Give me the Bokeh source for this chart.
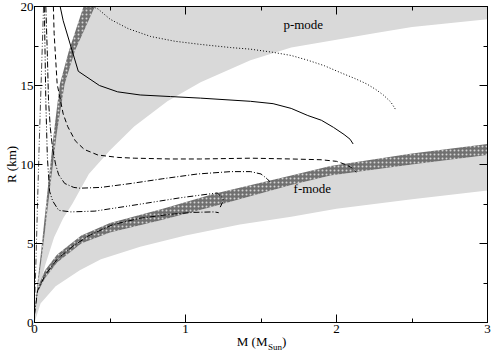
import math
from bokeh.plotting import figure
from bokeh.models import LinearAxis, SingleIntervalTicker, Range1d, CustomJSTickFormatter
from bokeh.core.properties import value
from bokeh.embed import file_html
from bokeh.resources import INLINE

# ---- axis ticks ----
x_ticks = [0, 1, 2, 3]
y_ticks = [0, 5, 10, 15, 20]

# ---- p-mode light band: lower edge ----
pl_M = [0, 0.03, 0.07, 0.13, 0.19, 0.25, 0.36, 0.5, 0.66, 0.88, 1.1, 1.43, 1.7, 2.0, 2.25, 2.5, 3.0]
pl_R = [0, 2.0, 3.6, 5.4, 6.6, 7.5, 9.4, 10.9, 12.4, 14.0, 15.2, 16.6, 17.4, 17.9, 18.3, 18.7, 19.2]

# ---- steep dark band (p-mode) ----
sd_R = [0.3, 2.5, 4.6, 8.5, 12.0, 15.1, 17.2, 20.5]
sd_Mleft = [0, 0.02, 0.045, 0.088, 0.128, 0.168, 0.228, 0.342]
sd_Mright = [0, 0.025, 0.055, 0.103, 0.148, 0.2, 0.268, 0.424]

# ---- shallow dark band (f-mode) ----
fd_M = [0, 0.02, 0.07, 0.15, 0.31, 0.5, 0.85, 1.19, 1.7, 1.96, 2.5, 3.0]
fd_Rhi = [0.3, 2.2, 3.3, 4.3, 5.5, 6.3, 7.2, 8.15, 9.3, 9.9, 10.7, 11.3]
fd_Rlo = [0.3, 1.9, 2.8, 3.8, 5.0, 5.7, 6.5, 7.35, 8.7, 9.3, 10.0, 10.6]

# ---- f-mode light band: lower edge ----
fl_M = [0, 0.04, 0.14, 0.3, 0.44, 0.7, 1.0, 1.36, 1.7, 2.0, 2.5, 3.0]
fl_R = [0, 1.2, 2.3, 3.3, 4.0, 4.8, 5.5, 6.2, 6.7, 7.2, 7.8, 8.35]

# ---- M-R curves ----
solid_M = [0.17, 0.19, 0.29, 0.43, 0.55, 0.7, 0.9, 1.1, 1.43, 1.58, 1.7, 1.81, 1.9, 1.98, 2.05, 2.09, 2.11]
solid_R = [20.0, 19.1, 15.9, 15.0, 14.6, 14.4, 14.3, 14.2, 14.0, 13.85, 13.55, 13.1, 12.8, 12.35, 11.9, 11.6, 11.3]

dotted_M = [0.38, 0.42, 0.5, 0.62, 0.77, 0.93, 1.1, 1.3, 1.43, 1.58, 1.7, 1.81, 1.92, 2.03, 2.12, 2.2, 2.26, 2.31, 2.36, 2.39]
dotted_R = [20.0, 19.85, 19.2, 18.6, 18.1, 17.8, 17.6, 17.4, 17.3, 17.1, 16.9, 16.6, 16.25, 15.8, 15.45, 15.1, 14.75, 14.4, 13.95, 13.5]

dashed_M = [0.125, 0.13, 0.15, 0.19, 0.22, 0.27, 0.33, 0.42, 0.55, 0.66, 0.9, 1.1, 1.43, 1.7, 1.9, 2.0, 2.06, 2.1, 2.13]
dashed_R = [20.0, 18.3, 15.1, 13.2, 12.4, 11.5, 10.95, 10.6, 10.45, 10.4, 10.35, 10.35, 10.4, 10.35, 10.3, 10.2, 10.0, 9.8, 9.5]

dashdotA_M = [0.075, 0.085, 0.093, 0.105, 0.12, 0.14, 0.16, 0.2, 0.26, 0.3, 0.44, 0.64, 0.85, 1.08, 1.3, 1.43, 1.5, 1.54, 1.56]
dashdotA_R = [20.0, 17.0, 14.0, 12.3, 11.0, 10.0, 9.35, 8.8, 8.55, 8.5, 8.55, 8.8, 9.1, 9.4, 9.55, 9.55, 9.4, 9.1, 8.9]

dashdotdotB_M = [0.065, 0.075, 0.085, 0.1, 0.12, 0.16, 0.24, 0.4, 0.64, 0.97, 1.21, 1.25, 1.245, 1.23]
dashdotdotB_R = [20.0, 14.0, 10.5, 8.3, 7.7, 7.1, 7.0, 7.05, 7.4, 7.9, 8.2, 7.85, 7.6, 7.3]

dashdotC_M = [0, 0.02, 0.07, 0.15, 0.25, 0.36, 0.52, 0.7, 0.9, 1.05, 1.19, 1.22]
dashdotC_R = [0.5, 2.0, 3.0, 4.0, 4.8, 5.5, 6.2, 6.6, 6.85, 6.97, 7.0, 6.95]

dashdotdotD_M = [0.0, 0.01, 0.02, 0.03, 0.045, 0.06]
dashdotdotD_R = [1.0, 4.0, 7.5, 10.9, 15.5, 20.0]

# ---- annotations ----
band_labels = ["p-mode", "f-mode"]
band_label_M = [1.78, 1.84]
band_label_R = [18.85, 8.5]

SERIF = "Liberation Serif"
LIGHT = "#d9d9d9"
DARK = "#707070"

p = figure(width=491, height=355, x_range=Range1d(0, 3), y_range=Range1d(0, 20),
           output_backend="svg", toolbar_location=None,
           x_axis_type=None, y_axis_type=None,
           min_border_left=34, min_border_right=4, min_border_top=6, min_border_bottom=33)
p.outline_line_color = "black"
p.background_fill_color = "white"
p.border_fill_color = "white"


def make_axis(interval, labels):
    ax = LinearAxis(ticker=SingleIntervalTicker(interval=interval, num_minor_ticks=2),
                    major_tick_in=8, major_tick_out=0, minor_tick_in=4, minor_tick_out=0,
                    axis_line_color="black", major_tick_line_color="black",
                    minor_tick_line_color="black",
                    major_label_text_font=SERIF, major_label_text_font_size="13px",
                    major_label_text_color="black",
                    major_label_standoff=2)
    if not labels:
        ax.formatter = CustomJSTickFormatter(code="return ''")
        ax.major_label_standoff = 0
    return ax

bottom = make_axis(1, True)
left = make_axis(5, True)
left.major_label_standoff = 1
left.axis_label = "R (km)"
left.axis_label_text_font = SERIF
left.axis_label_text_font_size = "13px"
left.axis_label_text_font_style = "normal"
left.axis_label_text_color = "black"
left.axis_label_standoff = -1
p.add_layout(bottom, "below")
p.add_layout(left, "left")
p.add_layout(make_axis(1, False), "above")
p.add_layout(make_axis(5, False), "right")

# light bands
p_x = sd_Mright + [3.0, 3.0] + pl_M[::-1]
p_y = sd_R + [20.5, 19.2] + pl_R[::-1]
p.patch(p_x, p_y, fill_color=LIGHT, line_color=None)

f_x = fd_M + fl_M[::-1]
f_y = fd_Rlo + fl_R[::-1]
p.patch(f_x, f_y, fill_color=LIGHT, line_color=None)

# dark hatched bands
p.patch(sd_Mleft + sd_Mright[::-1], sd_R + sd_R[::-1], fill_color=DARK, line_color=None,
        hatch_pattern="dot", hatch_color="white", hatch_scale=4, hatch_weight=1, hatch_alpha=0.7)
p.patch(fd_M + fd_M[::-1], fd_Rhi + fd_Rlo[::-1], fill_color=DARK, line_color=None,
        hatch_pattern="dot", hatch_color="white", hatch_scale=4, hatch_weight=1, hatch_alpha=0.7)

# curves
lw = 1
p.line(solid_M, solid_R, line_color="black", line_width=lw)
p.line(dotted_M, dotted_R, line_color="black", line_width=lw, line_dash="1 2")
p.line(dashed_M, dashed_R, line_color="black", line_width=lw, line_dash="5 3")
p.line(dashdotA_M, dashdotA_R, line_color="black", line_width=lw, line_dash="6 2 1 2")
p.line(dashdotdotB_M, dashdotdotB_R, line_color="black", line_width=lw, line_dash="6 2 1 2 1 2")
p.line(dashdotC_M, dashdotC_R, line_color="black", line_width=lw, line_dash="6 2 1 2")
p.line(dashdotdotD_M, dashdotdotD_R, line_color="#444444", line_width=lw, line_dash="6 2 1 2 1 2")

p.text(band_label_M, band_label_R, text=band_labels, text_font=value(SERIF),
       text_font_size="13px", text_align="center", text_baseline="middle", text_color="black")

# x-axis title pieces (main text, subscript, closing parenthesis), drawn unclipped
xt_M = [1.5, 1.5, 1.5]
xt_R = [0, 0, 0]
xt_text = ["M (M", "Sun", ")"]
xt_size = ["13px", "9px", "13px"]
xt_align = ["right", "left", "left"]
xt_dx = [6.5, 7, 21]
xt_dy = [18.5, 24, 18.5]
p.text(x=xt_M, y=xt_R, text=xt_text, text_font=value(SERIF), text_font_size=xt_size,
       text_align=xt_align, text_baseline="alphabetic", x_offset=xt_dx, y_offset=xt_dy,
       text_color="black", level="overlay")

open("out.html", "w").write(file_html(p, INLINE))
